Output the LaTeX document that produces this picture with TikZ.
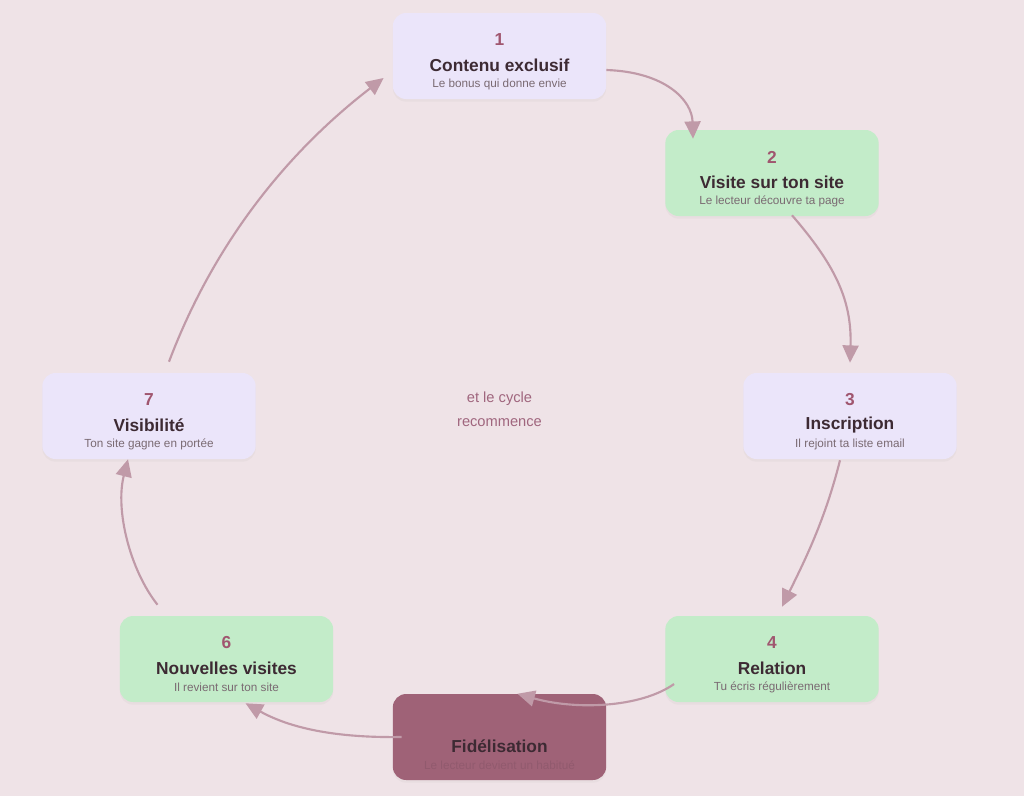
\documentclass[tikz,border=0pt]{standalone}
\usepackage{fontspec}
\setmainfont{Liberation Sans}
\usetikzlibrary{arrows.meta,calc,shadows}
\definecolor{bg}{HTML}{EFE3E7}
\definecolor{lav}{HTML}{EBE5FA}
\definecolor{grn}{HTML}{C3ECC9}
\definecolor{fid}{HTML}{9F6277}
\definecolor{arr}{HTML}{C09AA8}
\definecolor{numc}{HTML}{A0566F}
\definecolor{titc}{HTML}{3D2A33}
\definecolor{subc}{HTML}{7A6A72}
\definecolor{fidsub}{HTML}{915A6E}
\definecolor{ctr}{HTML}{A0667E}
\tikzset{
  card/.style={rectangle, rounded corners=10pt, minimum width=160pt, minimum height=64.5pt, inner sep=0pt, draw=none,
    drop shadow={opacity=0.06, shadow xshift=0pt, shadow yshift=-2pt}},
  numtxt/.style={font=\bfseries\fontsize{13}{15}\selectfont, text=numc, inner sep=0pt},
  tittxt/.style={font=\bfseries\fontsize{13}{15}\selectfont, text=titc, inner sep=0pt},
  subtxt/.style={font=\fontsize{8.8}{10}\selectfont, text=subc, inner sep=0pt},
  flow/.style={draw=arr, line width=1.6pt, -{Triangle[length=13pt,width=12pt]}},
  ctrtxt/.style={font=\fontsize{11}{13}\selectfont, text=ctr, inner sep=0pt}
}
\begin{document}
\begin{tikzpicture}[x=0.75pt,y=-0.75pt]
\fill[bg] (0,0) rectangle (1024,796);
\useasboundingbox (0,0) rectangle (1024,796);

\node[card, fill=lav] (b1) at (499.5,56) {};
\node[card, fill=grn] (b2) at (772,173) {};
\node[card, fill=lav] (b3) at (850,416) {};
\node[card, fill=grn] (b4) at (772,659) {};
\node[card, fill=fid] (b5) at (499.5,737) {};
\node[card, fill=grn] (b6) at (226.5,659) {};
\node[card, fill=lav] (b7) at (149,416) {};

% texts
\node[numtxt] (n1) at ($(b1.center)+(0,-16)$) {1};
\node[tittxt] (t1) at ($(b1.center)+(0,9)$) {Contenu exclusif};
\node[subtxt] (s1) at ($(b1.center)+(0,28)$) {Le bonus qui donne envie};

\node[numtxt] (n2) at ($(b2.center)+(0,-16)$) {2};
\node[tittxt] (t2) at ($(b2.center)+(0,9)$) {Visite sur ton site};
\node[subtxt] (s2) at ($(b2.center)+(0,28)$) {Le lecteur découvre ta page};

\node[numtxt] (n3) at ($(b3.center)+(0,-16)$) {3};
\node[tittxt] (t3) at ($(b3.center)+(0,9)$) {Inscription};
\node[subtxt] (s3) at ($(b3.center)+(0,28)$) {Il rejoint ta liste email};

\node[numtxt] (n4) at ($(b4.center)+(0,-16)$) {4};
\node[tittxt] (t4) at ($(b4.center)+(0,9)$) {Relation};
\node[subtxt] (s4) at ($(b4.center)+(0,28)$) {Tu écris régulièrement};

\node[tittxt] (t5) at ($(b5.center)+(0,9)$) {Fidélisation};
\node[subtxt, text=fidsub] (s5) at ($(b5.center)+(0,28)$) {Le lecteur devient un habitué};

\node[numtxt] (n6) at ($(b6.center)+(0,-16)$) {6};
\node[tittxt] (t6) at ($(b6.center)+(0,9)$) {Nouvelles visites};
\node[subtxt] (s6) at ($(b6.center)+(0,28)$) {Il revient sur ton site};

\node[numtxt] (n7) at ($(b7.center)+(0,-16)$) {7};
\node[tittxt] (t7) at ($(b7.center)+(0,9)$) {Visibilité};
\node[subtxt] (s7) at ($(b7.center)+(0,28)$) {Ton site gagne en portée};

\node[ctrtxt] (c1) at (499.5,398.5) {et le cycle};
\node[ctrtxt] (c2) at (499.5,422.5) {recommence};

% connectors
\draw[flow] ($(b1.east)+(0,14)$) .. controls (665,72) and (692,100) .. ($(b2.north)+(-79,9)$);
\draw[flow] ($(b2.south)+(20,-1)$) .. controls (835,265) and (852,300) .. ($(b3.north)+(0,-10)$);
\draw[flow] ($(b3.south)+(-10,1)$) .. controls (825,520) and (805,560) .. ($(b4.north)+(10,-9)$);
\draw[flow] ($(b4.west)+(9,25)$) .. controls (640,708) and (575,710) .. ($(b5.north)+(18,0)$);
\draw[flow] ($(b5.west)+(9,0)$) .. controls (335,738) and (290,728) .. ($(b6.south)+(19,1)$);
\draw[flow] ($(b6.north)+(-69,-11)$) .. controls (130,570) and (115,510) .. ($(b7.south)+(-21,0)$);
\draw[flow] ($(b7.north)+(20,-11)$) .. controls (215,240) and (290,150) .. ($(b1.west)+(-9,22)$);
\end{tikzpicture}
\end{document}
